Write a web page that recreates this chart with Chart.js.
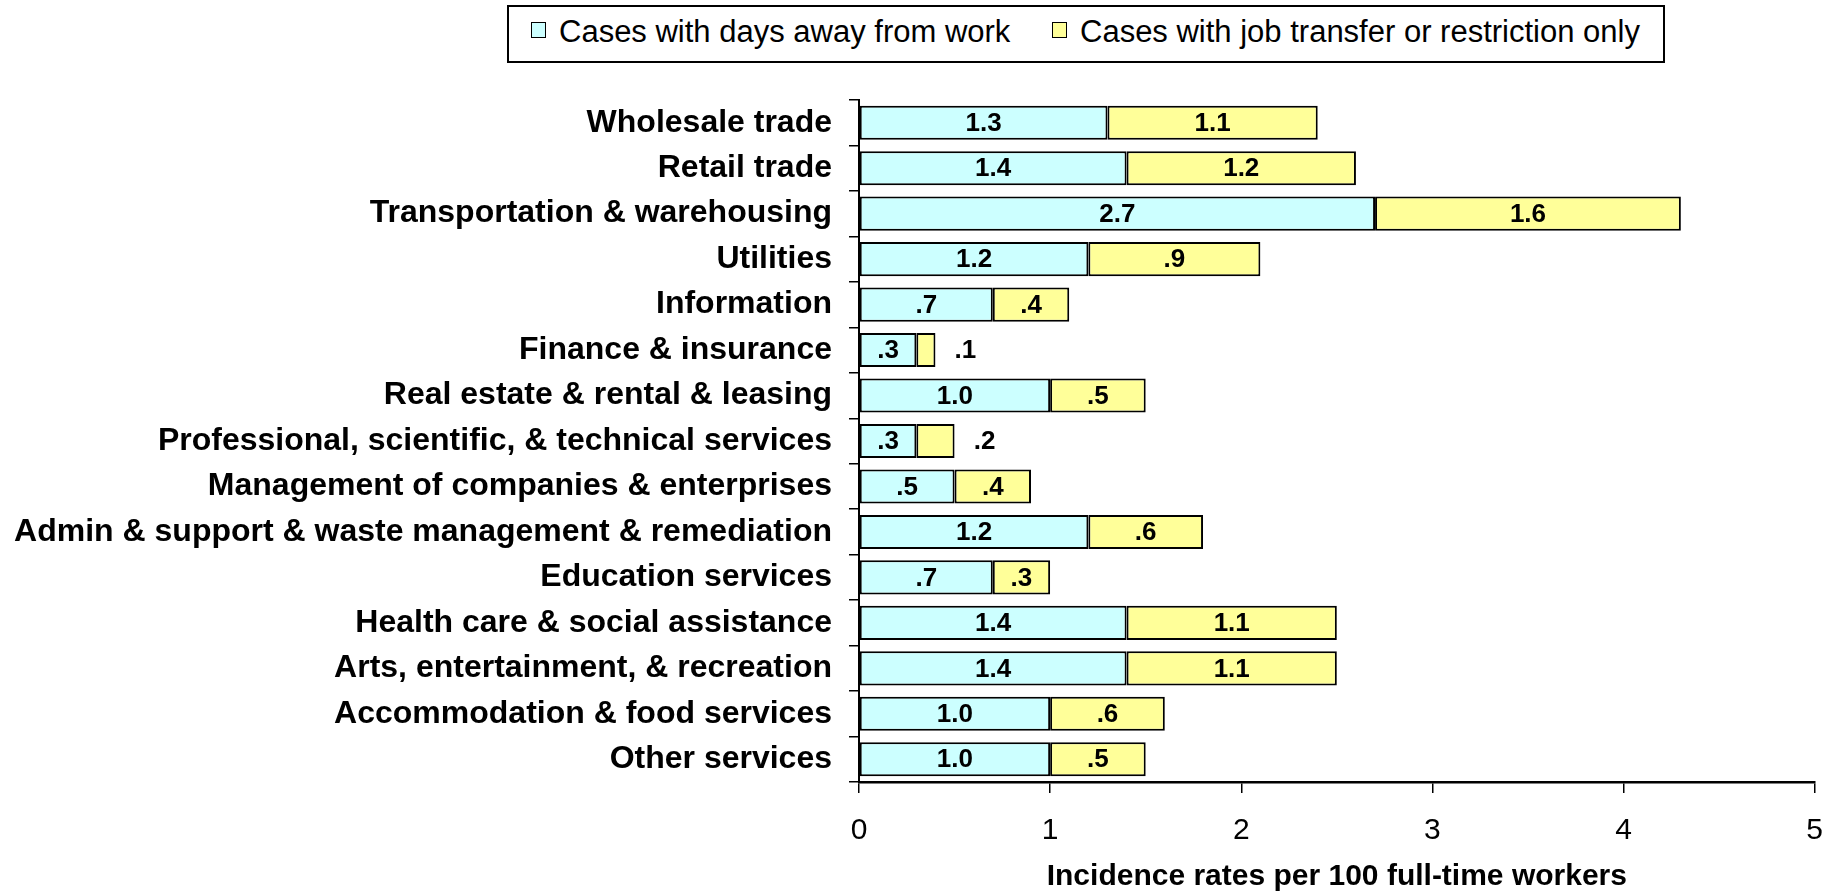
<!DOCTYPE html>
<html>
<head>
<meta charset="utf-8">
<script src="https://cdn.jsdelivr.net/npm/chart.js@4/dist/chart.umd.min.js"></script>
<style>
  html, body { margin: 0; padding: 0; background: #fff; }
  #wrap { position: relative; width: 1843px; height: 892px; }
  #legend { position: absolute; left: 507px; top: 5px; width: 1158px; height: 58px; border: 2px solid #000; box-sizing: border-box; background: #fff; font-family: "Liberation Sans", Arial, sans-serif; font-size: 31px; color: #000; }
  .sw { position: absolute; top: 15px; width: 13px; height: 14px; border: 1.5px solid #000; }
  .lt { position: absolute; top: 0; line-height: 50px; white-space: nowrap; }
</style>
</head>
<body>
<div id="wrap">
  <canvas id="c" width="1843" height="892"></canvas>
  <div id="legend"></div>
</div>
<script>
const categories = [
  "Wholesale trade",
  "Retail trade",
  "Transportation & warehousing",
  "Utilities",
  "Information",
  "Finance & insurance",
  "Real estate & rental & leasing",
  "Professional, scientific, & technical services",
  "Management of companies & enterprises",
  "Admin & support & waste management & remediation",
  "Education services",
  "Health care & social assistance",
  "Arts, entertainment, & recreation",
  "Accommodation & food services",
  "Other services"
];
const seriesNames = ["Cases with days away from work", "Cases with job transfer or restriction only"];
const daysAway = [1.3, 1.4, 2.7, 1.2, 0.7, 0.3, 1.0, 0.3, 0.5, 1.2, 0.7, 1.4, 1.4, 1.0, 1.0];
const jobTransfer = [1.1, 1.2, 1.6, 0.9, 0.4, 0.1, 0.5, 0.2, 0.4, 0.6, 0.3, 1.1, 1.1, 0.6, 0.5];
const xTicks = [0, 1, 2, 3, 4, 5];
const xTitle = "Incidence rates per 100 full-time workers";
const colors = ["#CCFFFF", "#FFFF99"];

const FONT = '"Liberation Sans", Arial, sans-serif';

// HTML legend
const legend = document.getElementById('legend');
const legendPos = [{sw: 22, tx: 50}, {sw: 543, tx: 571}];
seriesNames.forEach((n, i) => {
  const s = document.createElement('div');
  s.className = 'sw'; s.style.left = legendPos[i].sw + 'px'; s.style.background = colors[i];
  const t = document.createElement('div');
  t.className = 'lt'; t.style.left = legendPos[i].tx + 'px'; t.textContent = n;
  legend.appendChild(s); legend.appendChild(t);
});

function fmt(v) { return v.toFixed(1).replace(/^0/, ''); }

const segLabels = {
  id: 'segLabels',
  afterDatasetsDraw(chart) {
    const ctx = chart.ctx;
    ctx.save();
    ctx.font = 'bold 26px ' + FONT;
    ctx.fillStyle = '#000';
    ctx.textBaseline = 'middle';
    ctx.textAlign = 'center';
    chart.data.datasets.forEach((ds, di) => {
      const meta = chart.getDatasetMeta(di);
      meta.data.forEach((bar, i) => {
        const p = bar.getProps(['x', 'y', 'base'], true);
        const w = Math.abs(p.x - p.base);
        const txt = fmt(ds.data[i]);
        if (w < 45) ctx.fillText(txt, p.x + 30, p.y + 1);
        else ctx.fillText(txt, (p.x + p.base) / 2, p.y + 1);
      });
    });
    ctx.restore();
  }
};

new Chart(document.getElementById('c'), {
  type: 'bar',
  data: {
    labels: categories,
    datasets: [
      { label: seriesNames[0], data: daysAway, backgroundColor: colors[0], borderColor: '#000', borderWidth: 2, borderSkipped: false },
      { label: seriesNames[1], data: jobTransfer, backgroundColor: colors[1], borderColor: '#000', borderWidth: 2, borderSkipped: false }
    ]
  },
  options: {
    indexAxis: 'y',
    responsive: false,
    animation: false,
    devicePixelRatio: 1,
    barPercentage: 0.75,
    categoryPercentage: 1,
    layout: { padding: { top: 100, right: 20, bottom: 0, left: 0 } },
    plugins: { legend: { display: false }, tooltip: { enabled: false } },
    scales: {
      x: {
        stacked: true,
        min: 0, max: 5,
        afterBuildTicks(scale) { scale.ticks = xTicks.map(v => ({ value: v })); },
        afterFit(scale) { scale.height = 110; },
        ticks: { color: '#000', font: { family: FONT, size: 30 }, padding: 20, callback: v => String(v) },
        grid: { drawOnChartArea: false, drawTicks: true, tickLength: 11, color: '#000', tickColor: '#000', lineWidth: 1.5, tickWidth: 1.5 },
        border: { display: true, color: '#000', width: 2.5 },
        title: { display: true, text: xTitle, color: '#000', font: { family: FONT, size: 30, weight: 'bold', lineHeight: 1.0 }, padding: { top: 0, bottom: 0 } }
      },
      y: {
        stacked: true,
        afterFit(scale) { scale.width = 859; },
        ticks: { color: '#000', font: { family: FONT, size: 32, weight: 'bold' }, padding: 17, autoSkip: false },
        grid: { drawOnChartArea: false, drawTicks: true, tickLength: 10, offset: true, color: '#000', tickColor: '#000', lineWidth: 1.5, tickWidth: 1.5 },
        border: { display: true, color: '#000', width: 2 }
      }
    }
  },
  plugins: [segLabels]
});
</script>
</body>
</html>
